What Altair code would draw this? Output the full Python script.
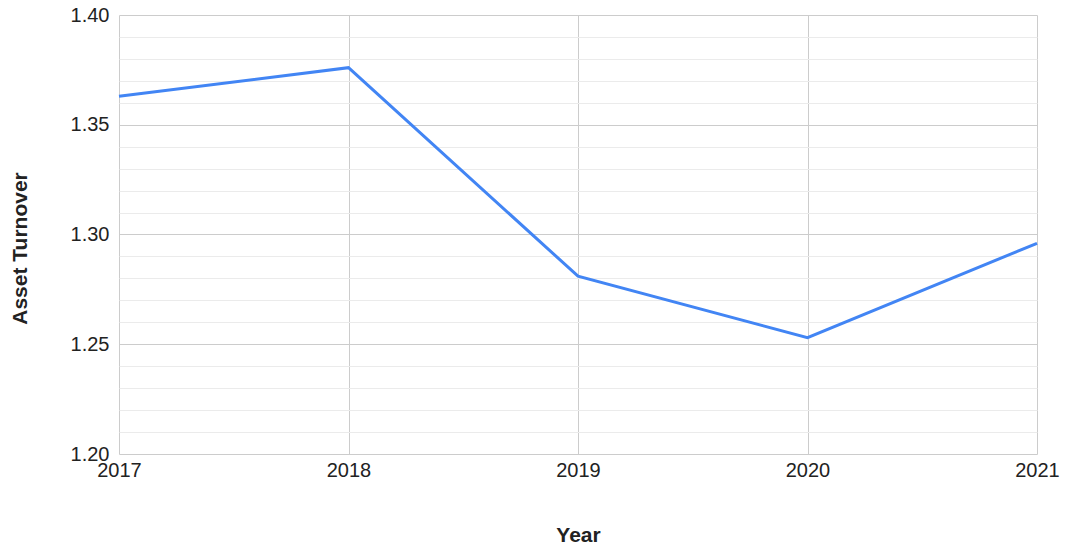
import altair as alt
import pandas as pd

years = [2017, 2018, 2019, 2020, 2021]
asset_turnover = [1.363, 1.376, 1.281, 1.253, 1.296]
y_ticks = [round(1.20 + 0.01 * i, 2) for i in range(21)]

df = pd.DataFrame({"Year": years, "Asset Turnover": asset_turnover})

major = "round(datum.value*100) % 5 == 0"

chart = alt.Chart(df).mark_line(color="#4285F4", strokeWidth=3).encode(
    x=alt.X(
        "Year:Q",
        scale=alt.Scale(domain=[2017, 2021], nice=False, zero=False),
        axis=alt.Axis(
            values=years, format="d", title="Year", grid=True, gridColor="#cccccc",
            domain=False, ticks=False, labelPadding=6, labelFontSize=20,
            labelColor="#222222", labelFont="Liberation Sans",
            titleFont="Liberation Sans", titleFontSize=21, titleFontWeight="bold",
            titleColor="#222222", titleY=81, titleBaseline="middle",
            labelFlush=False, labelOverlap=False,
        ),
    ),
    y=alt.Y(
        "Asset Turnover:Q",
        scale=alt.Scale(domain=[1.20, 1.40], nice=False, zero=False),
        axis=alt.Axis(
            values=y_ticks, grid=True,
            gridColor={"condition": {"test": major, "value": "#cccccc"}, "value": "#ebebeb"},
            labelExpr=f"{major} ? format(datum.value, '.2f') : ''",
            domain=False, ticks=False, labelPadding=10, labelFontSize=20,
            labelColor="#222222", labelFont="Liberation Sans",
            titleFont="Liberation Sans", titleFontSize=21, titleFontWeight="bold",
            titleColor="#222222", titleX=-99, titleY=233, titleBaseline="middle",
            labelFlush=False, labelOverlap=False,
        ),
    ),
).properties(
    width=918, height=439,
    padding={"left": 119, "top": 15, "right": 28, "bottom": 98},
    autosize="none",
).configure_view(stroke=None)

chart.save("out.html", embed_options={"renderer": "svg", "actions": False})
